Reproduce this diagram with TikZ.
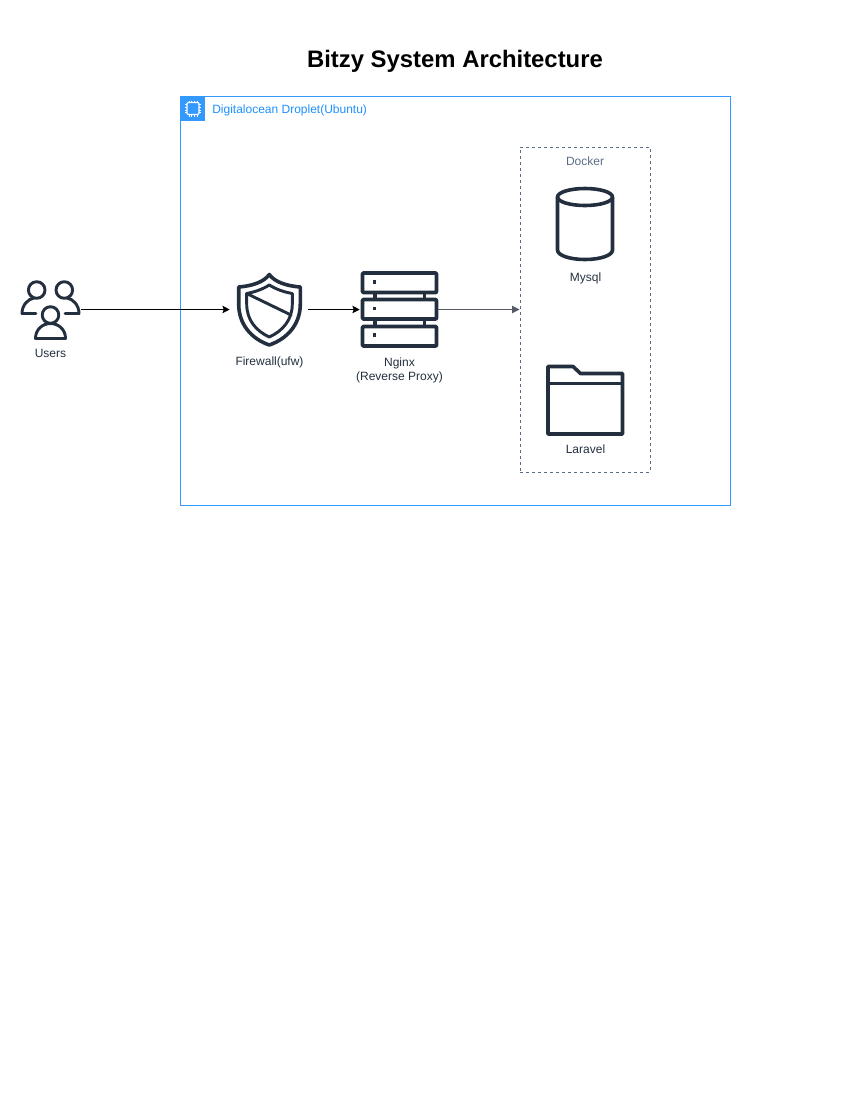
\documentclass[tikz,border=0pt]{standalone}
\usepackage{fontspec}
\setmainfont{Liberation Sans}
\usetikzlibrary{arrows.meta}
\definecolor{ink}{HTML}{232F3E}
\definecolor{groupblue}{HTML}{3399FF}
\definecolor{grouptext}{HTML}{1E90FF}
\definecolor{dockerc}{HTML}{5A6C86}
\definecolor{arrowgray}{HTML}{545B64}
\tikzset{
  iconbox/.style={inner sep=0pt,minimum width=#1,minimum height=#1},
  iconline/.style={draw=ink,line width=2.7pt,line join=round,line cap=round},
  iconthin/.style={draw=ink,line width=2.2pt,line join=round,line cap=round},
  lbl/.style={text=ink,font=\fontsize{9}{10.5}\selectfont,align=center,inner sep=0pt},
  link/.style={draw=black,line width=0.75pt,-{Stealth[length=5.5pt,width=5.5pt,inset=1pt]}},
  graylink/.style={draw=arrowgray,line width=0.75pt,-{Triangle[length=5.5pt,width=5.5pt]}},
}
\begin{document}
\begin{tikzpicture}[x=0.75pt,y=-0.75pt]
\useasboundingbox (0,0) rectangle (850,1100);
\node[font=\bfseries\fontsize{17.9}{21}\selectfont,inner sep=0pt] (title) at (455,61) {Bitzy System Architecture};
% Droplet group
\node[draw=groupblue,line width=0.75pt,minimum width=550*0.75pt,minimum height=409*0.75pt,inner sep=0pt] (droplet) at (455.5,300.5) {};
\node[fill=groupblue,minimum width=18pt,minimum height=18pt,inner sep=0pt] (chip) at (193,108.5) {};
\draw[white,line width=0.8pt,rounded corners=0.8pt] (187,102.5) rectangle (199,114.5);
\foreach \p in {104.5,107,110,112.5}{
  \draw[white,line width=0.45pt] (185,\p) -- (187,\p) (199,\p) -- (201,\p);
}
\foreach \p in {189,191.7,194.3,197}{
  \draw[white,line width=0.45pt] (\p,100.5) -- (\p,102.5) (\p,114.5) -- (\p,116.5);
}
\node[text=grouptext,font=\fontsize{9}{10.5}\selectfont,inner sep=0pt,anchor=west] (dropletlabel) at (212,110) {Digitalocean Droplet(Ubuntu)};
% Docker group
\node[draw=dockerc,line width=0.75pt,dash pattern=on 2.25pt off 2.25pt,minimum width=130*0.75pt,minimum height=325*0.75pt,inner sep=0pt] (docker) at (585,309.5) {};
\node[text=dockerc,font=\fontsize{9}{10.5}\selectfont,inner sep=0pt] (dockerlabel) at (585,161.5) {Docker};
% Users
\node[iconbox=60*0.75pt] (users) at (50.5,309.5) {};
\draw[iconthin] (36.7,290) circle (8.3);
\draw[iconthin] (64.3,290) circle (8.3);
\draw[iconthin] (50.5,315) circle (8.3);
\draw[iconthin] (36,313.5) -- (22,313.5) .. controls (22,305) and (28,299) .. (34,298);
\draw[iconthin] (65,313.5) -- (79,313.5) .. controls (79,305) and (73,299) .. (67,298);
\draw[iconthin] (35.5,338.5) -- (65.5,338.5) .. controls (65.5,329) and (58,323.5) .. (50.5,323.5) .. controls (43,323.5) and (35.5,329) .. (35.5,338.5) -- cycle;
\node[lbl] (userslabel) at (50.5,353.5) {Users};
% Firewall
\node[iconbox=78*0.75pt] (firewall) at (269,309.5) {};
\draw[iconline] (269.3,274.5) .. controls (264,282) and (252,286) .. (238.7,287)
  -- (238.7,304) .. controls (238.7,325) and (252,339) .. (269.3,345)
  .. controls (286.6,339) and (300.3,325) .. (300.3,304) -- (300.3,287)
  .. controls (286.6,286) and (274.6,282) .. (269.3,274.5) -- cycle;
\draw[iconthin] (269.3,285) .. controls (263,289) and (255,292) .. (246.7,293.5)
  -- (246.7,304) .. controls (246.7,320) and (256,331) .. (269.3,337)
  .. controls (282.6,331) and (292.3,320) .. (292.3,304) -- (292.3,293.5)
  .. controls (283.6,292) and (275.6,289) .. (269.3,285) -- cycle;
\draw[iconthin] (246.7,293.5) -- (291,315);
\node[lbl] (firewalllabel) at (269.5,362.5) {Firewall(ufw)};
% Nginx
\node[iconbox=78*0.75pt] (nginx) at (399,309.5) {};
\draw[iconline,rounded corners=0.6pt] (362.5,273) rectangle (436.5,292.5);
\draw[iconline,rounded corners=0.6pt] (362.5,299.5) rectangle (436.5,319);
\draw[iconline,rounded corners=0.6pt] (362.5,326.5) rectangle (436.5,346);
\draw[iconline,line cap=butt] (375,292.5) -- (375,299.5) (424.5,292.5) -- (424.5,299.5);
\draw[iconline,line cap=butt] (375,319) -- (375,326.5) (424.5,319) -- (424.5,326.5);
\fill[ink] (372.8,280.2) rectangle (376.4,283.8);
\fill[ink] (372.8,306.8) rectangle (376.4,310.4);
\fill[ink] (372.8,333.4) rectangle (376.4,337);
\node[lbl] (nginxlabel) at (399.5,370) {Nginx\\(Reverse Proxy)};
% Mysql
\node[iconbox=78*0.75pt] (mysql) at (585,224) {};
\draw[iconline] (557.5,197) -- (557.5,250) .. controls (557.5,255.5) and (570,259.5) .. (585,259.5)
  .. controls (600,259.5) and (612.5,255.5) .. (612.5,250) -- (612.5,197);
\draw[iconline] (585,197) ellipse (27.5 and 8.5);
\node[lbl] (mysqllabel) at (585.5,278) {Mysql};
% Laravel
\node[iconbox=78*0.75pt] (laravel) at (585,399) {};
\draw[iconline] (548,366.5) -- (573,366.5) -- (580.5,373.5) -- (622.5,373.5) -- (622.5,434) -- (548,434) -- cycle;
\draw[iconline,line cap=butt] (548,383.5) -- (622.5,383.5);
\node[lbl] (laravellabel) at (585.5,449.5) {Laravel};
% Connectors
\draw[link] (users.east) -- (firewall.west);
\draw[link] (firewall.east) -- (nginx.west);
\draw[graylink] (nginx.east) -- (docker.west);
\end{tikzpicture}
\end{document}
